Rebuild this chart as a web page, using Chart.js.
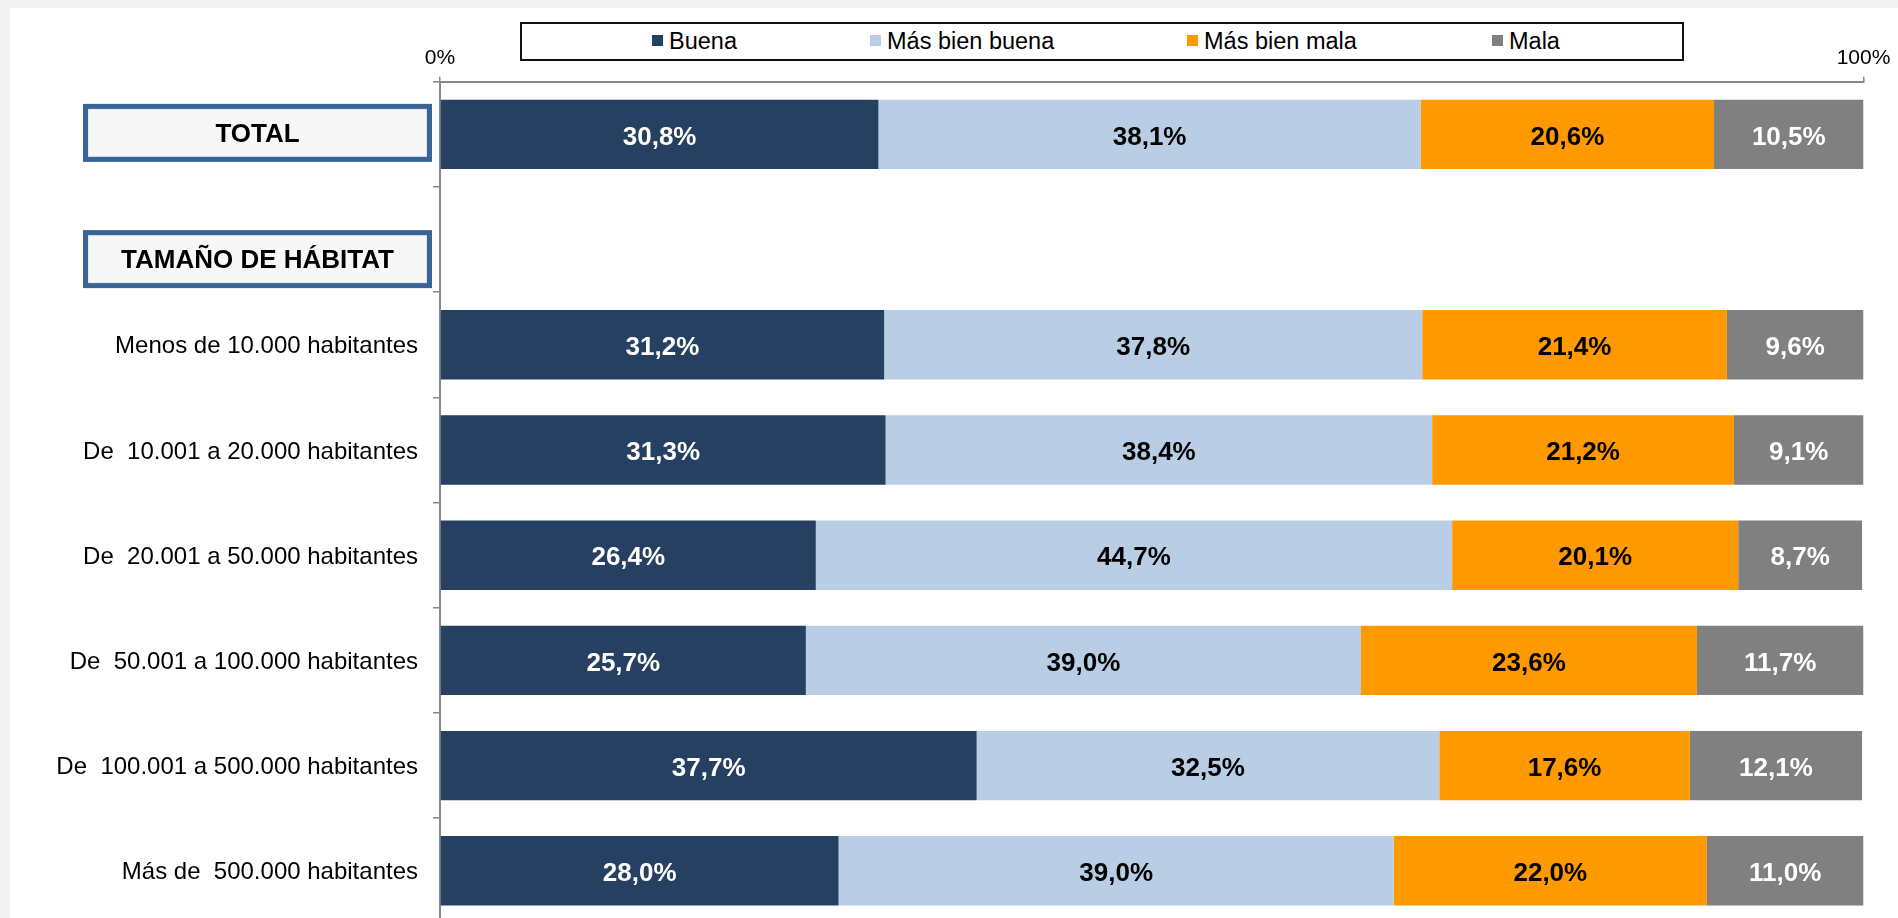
<!DOCTYPE html>
<html>
<head>
<meta charset="utf-8">
<script src="https://cdn.jsdelivr.net/npm/chart.js@4.4.1/dist/chart.umd.min.js"></script>
<style>
html,body{margin:0;padding:0;overflow:hidden;background:#f2f2f2;}
#wrap{position:relative;width:1898px;height:918px;overflow:hidden;}
#panel{position:absolute;left:10px;top:8px;right:0;bottom:0;background:#ffffff;}
#c{position:absolute;left:0;top:0;}
#legend{position:absolute;left:520px;top:22px;width:1160px;height:35px;border:2px solid #111;background:#fff;
  font-family:"Liberation Sans",Arial,sans-serif;font-size:23.5px;color:#000;}
.li{position:absolute;top:0;height:35px;line-height:35px;white-space:nowrap;}
.sw{position:absolute;width:11px;height:11px;top:11px;left:0;}
.lt{position:absolute;left:17px;top:0;}
</style>
</head>
<body>
<div id="wrap">
  <div id="panel"></div>
  <canvas id="c" width="1898" height="930"></canvas>
  <div id="legend"></div>
</div>
<script>
// ---- data ----
const categories = [
  'TOTAL',
  'TAMAÑO DE HÁBITAT',
  'Menos de 10.000 habitantes',
  'De  10.001 a 20.000 habitantes',
  'De  20.001 a 50.000 habitantes',
  'De  50.001 a 100.000 habitantes',
  'De  100.001 a 500.000 habitantes',
  'Más de  500.000 habitantes'
];
const headerRows = ['TOTAL', 'TAMAÑO DE HÁBITAT'];
const seriesNames = ['Buena', 'Más bien buena', 'Más bien mala', 'Mala'];
const buena        = [30.8, null, 31.2, 31.3, 26.4, 25.7, 37.7, 28.0];
const masBienBuena = [38.1, null, 37.8, 38.4, 44.7, 39.0, 32.5, 39.0];
const masBienMala  = [20.6, null, 21.4, 21.2, 20.1, 23.6, 17.6, 22.0];
const mala         = [10.5, null,  9.6,  9.1,  8.7, 11.7, 12.1, 11.0];
const xTickValues = [0, 100];
const xTickLabels = ['0%', '100%'];

// ---- styles ----
const FONT = '"Liberation Sans", Arial, sans-serif';
const seriesColors = ['#254061', '#b9cde5', '#ff9900', '#808080'];
const labelColors  = ['#ffffff', '#000000', '#000000', '#ffffff'];
const seriesData = [buena, masBienBuena, masBienMala, mala];

// HTML legend
const legendPos = [130, 348, 665, 970];
const legendEl = document.getElementById('legend');
seriesNames.forEach((n, i) => {
  const d = document.createElement('div');
  d.className = 'li';
  d.style.left = legendPos[i] + 'px';
  d.innerHTML = '<span class="sw" style="background:' + seriesColors[i] + '"></span><span class="lt">' + n + '</span>';
  legendEl.appendChild(d);
});

const fmt = v => v.toFixed(1).replace('.', ',') + '%';

const dataLabelPlugin = {
  id: 'dataLabels',
  afterDatasetsDraw(chart) {
    const ctx = chart.ctx;
    ctx.save();
    ctx.font = 'bold 26px ' + FONT;
    ctx.textAlign = 'center';
    ctx.textBaseline = 'middle';
    chart.data.datasets.forEach((ds, di) => {
      const meta = chart.getDatasetMeta(di);
      meta.data.forEach((el, i) => {
        const v = ds.data[i];
        if (v === null || v === undefined) return;
        ctx.fillStyle = labelColors[di];
        ctx.fillText(fmt(v), (el.x + el.base) / 2, el.y + 3);
      });
    });
    ctx.restore();
  }
};

const headerBoxPlugin = {
  id: 'headerBoxes',
  afterDraw(chart) {
    const ctx = chart.ctx;
    const ys = chart.scales.y;
    const right = chart.chartArea.left - 8;
    const w = 349, h = 58;
    const offsets = [-1.5, 19.5];
    headerRows.forEach((txt, k) => {
      const idx = categories.indexOf(txt);
      const cy = ys.getPixelForValue(idx) + offsets[k];
      const x = right - w, y = cy - h / 2;
      ctx.save();
      ctx.fillStyle = '#3a6497';
      ctx.fillRect(x, y, w, h);
      ctx.fillStyle = '#dfe5ec';
      ctx.fillRect(x + 5, y + 5, w - 10, h - 10);
      ctx.fillStyle = '#f7f7f7';
      ctx.fillRect(x + 6, y + 6, w - 12, h - 12);
      ctx.fillStyle = '#000';
      ctx.font = 'bold 26px ' + FONT;
      ctx.textAlign = 'center';
      ctx.textBaseline = 'middle';
      ctx.fillText(txt, x + w / 2, cy + 2);
      ctx.restore();
    });
  }
};

new Chart(document.getElementById('c'), {
  type: 'bar',
  data: {
    labels: categories,
    datasets: seriesNames.map((n, i) => ({
      label: n,
      data: seriesData[i],
      backgroundColor: seriesColors[i],
      borderWidth: 0,
      barPercentage: 0.66,
      categoryPercentage: 1.0
    }))
  },
  options: {
    indexAxis: 'y',
    responsive: false,
    animation: false,
    devicePixelRatio: 1,
    layout: { padding: { left: 0, right: 34.5, top: 0, bottom: 6.6 } },
    plugins: { legend: { display: false }, tooltip: { enabled: false } },
    scales: {
      x: {
        type: 'linear',
        position: 'top',
        stacked: true,
        min: 0, max: 100,
        afterBuildTicks: s => { s.ticks = xTickValues.map(v => ({ value: v })); },
        afterFit: s => { s.height = 81.8; s.paddingLeft = 0; s.paddingRight = 0; },
        ticks: {
          callback: (v, i) => xTickLabels[i],
          font: { size: 21, family: FONT },
          color: '#000',
          padding: 6,
          maxRotation: 0,
          autoSkip: false
        },
        grid: { drawOnChartArea: false, tickLength: 5, color: '#888', lineWidth: 1.5 },
        border: { color: '#888', width: 2 }
      },
      y: {
        stacked: true,
        position: 'left',
        afterFit: s => { s.width = 440; s.paddingTop = 0; s.paddingBottom = 0; },
        ticks: {
          callback: (v, i) => headerRows.includes(categories[i]) ? '' : categories[i],
          font: { size: 24, family: FONT },
          color: '#000',
          padding: 15,
          labelOffset: 2,
          autoSkip: false
        },
        grid: { drawOnChartArea: false, tickLength: 7, color: '#888', lineWidth: 1.5, offset: true },
        border: { color: '#888', width: 2 }
      }
    }
  },
  plugins: [dataLabelPlugin, headerBoxPlugin]
});
</script>
</body>
</html>
